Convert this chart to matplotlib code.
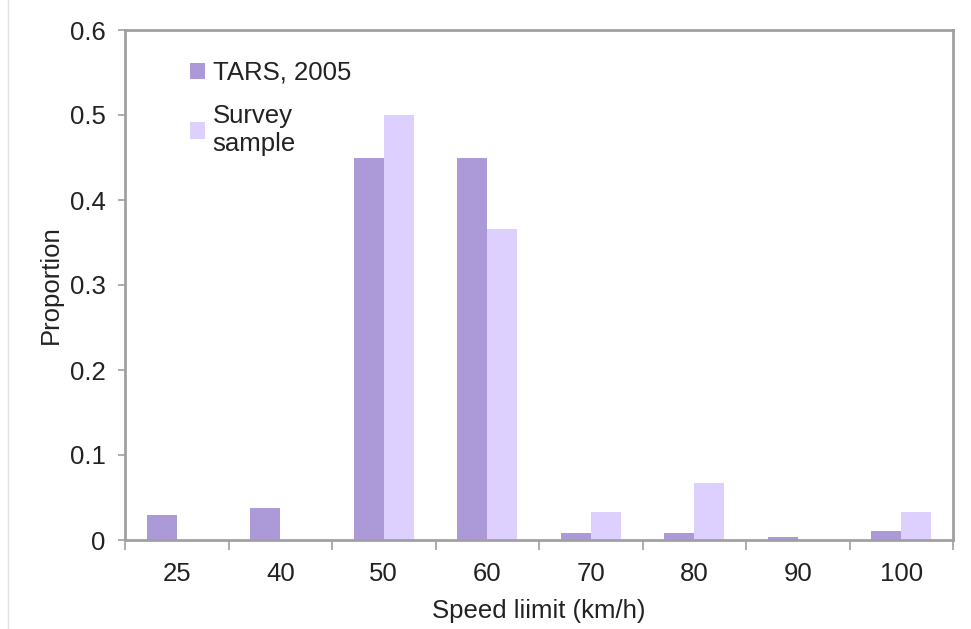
import matplotlib.pyplot as plt
from matplotlib.lines import Line2D
import numpy as np

# Speed limit categories and proportions
limites = ["25", "40", "50", "60", "70", "80", "90", "100"]
tars_2005 = [0.030, 0.038, 0.450, 0.450, 0.008, 0.008, 0.003, 0.011]
amostra = [0.0, 0.0, 0.500, 0.366, 0.033, 0.067, 0.0, 0.033]

cor_tars = "#ab99d8"
cor_amostra = "#ddd0fe"
cor_borda = "#a0a0a0"

plt.rcParams['font.family'] = ['Liberation Sans', 'DejaVu Sans']

fig = plt.figure(figsize=(9.71, 6.29), dpi=100)
ax = fig.add_axes([125 / 971, 1 - 540 / 629, 828 / 971, 510 / 629])

x = np.arange(len(limites))
larg = 0.29
ax.bar(x - larg / 2, tars_2005, larg, color=cor_tars, label="TARS, 2005", zorder=2)
ax.bar(x + larg / 2, amostra, larg, color=cor_amostra, label="Survey\nsample", zorder=2)

ax.set_xlim(-0.5, len(limites) - 0.5)
ax.set_ylim(0, 0.6)
ax.set_yticks([0, 0.1, 0.2, 0.3, 0.4, 0.5, 0.6])
ax.set_yticklabels(["0", "0.1", "0.2", "0.3", "0.4", "0.5", "0.6"])
ax.set_xticks(x)
ax.set_xticklabels(limites)
ax.set_xticks(np.arange(len(limites) + 1) - 0.5, minor=True)

fs = 18.5
ax.tick_params(axis='x', which='major', length=0, labelsize=fs, pad=16, colors='#222222')
ax.tick_params(axis='x', which='minor', length=7, width=1.2, color=cor_borda, direction='out')
ax.tick_params(axis='y', length=5, width=1.2, color=cor_borda, labelsize=fs, pad=9, labelcolor='#222222')

for lado in ax.spines.values():
    lado.set_color(cor_borda)
    lado.set_linewidth(2)

ax.set_xlabel("Speed liimit (km/h)", fontsize=fs, labelpad=9, color='#222222')
ax.set_ylabel("Proportion", fontsize=fs, labelpad=5, color='#222222')

ax.legend(loc='upper left', bbox_to_anchor=(0.05, 0.985), frameon=False, fontsize=fs,
          handlelength=0.6, handleheight=0.6, handletextpad=0.3, labelspacing=0.75,
          labelcolor='#222222')

# faint line at the left edge of the figure
fig.add_artist(Line2D([8 / 971, 8 / 971], [0, 1], color='#e4e4e4', lw=1))

fig.savefig("out.png", dpi=100)
